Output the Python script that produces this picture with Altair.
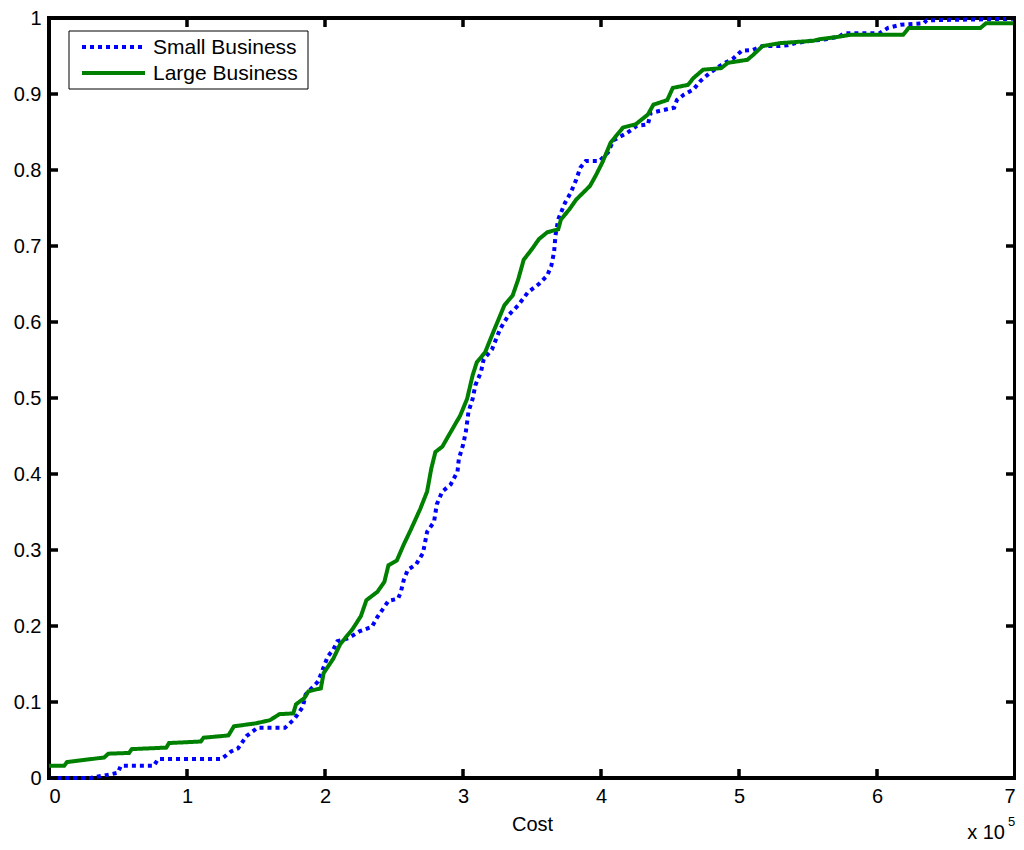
import altair as alt
import pandas as pd

# ---- data (cost in units of 1e5, cumulative fraction) ----
small_x = [0, 0.30, 0.45, 0.50, 0.52, 0.76, 0.79, 1.25, 1.32, 1.37, 1.43, 1.51, 1.71, 1.78, 1.84, 1.86,
           1.95, 2.02, 2.06, 2.09, 2.17, 2.25, 2.34, 2.38, 2.46, 2.53, 2.55, 2.57, 2.60, 2.66, 2.71, 2.74,
           2.79, 2.81, 2.85, 2.91, 2.96, 2.97, 3.00, 3.02, 3.04, 3.07, 3.09, 3.13, 3.15, 3.21, 3.27, 3.33,
           3.40, 3.47, 3.55, 3.61, 3.64, 3.66, 3.67, 3.69, 3.71, 3.74, 3.78, 3.82, 3.85, 3.89, 3.99, 4.05,
           4.09, 4.19, 4.26, 4.34, 4.36, 4.43, 4.53, 4.55, 4.60, 4.67, 4.72, 4.79, 4.87, 4.96, 5.02, 5.10,
           5.17, 5.28, 5.35, 5.41, 5.52, 5.63, 5.73, 5.76, 6.02, 6.08, 6.17, 6.34, 6.36, 7.00]
small_y = [0.0, 0.0, 0.005, 0.007, 0.016, 0.016, 0.025, 0.025, 0.035, 0.039, 0.055, 0.066, 0.066, 0.078, 0.094, 0.110,
           0.127, 0.160, 0.169, 0.180, 0.184, 0.193, 0.199, 0.212, 0.233, 0.236, 0.245, 0.260, 0.274, 0.281, 0.296, 0.324,
           0.337, 0.360, 0.377, 0.386, 0.403, 0.420, 0.438, 0.455, 0.482, 0.499, 0.517, 0.534, 0.551, 0.564, 0.591, 0.609,
           0.622, 0.639, 0.650, 0.661, 0.674, 0.692, 0.714, 0.735, 0.744, 0.757, 0.770, 0.787, 0.803, 0.812, 0.812, 0.823,
           0.839, 0.849, 0.858, 0.860, 0.875, 0.878, 0.882, 0.892, 0.899, 0.906, 0.917, 0.928, 0.938, 0.947, 0.957, 0.958,
           0.963, 0.963, 0.964, 0.967, 0.970, 0.972, 0.976, 0.980, 0.980, 0.987, 0.991, 0.993, 0.997, 0.999]

large_x = [0, 0.11, 0.13, 0.40, 0.43, 0.58, 0.60, 0.85, 0.87, 1.10, 1.12, 1.30, 1.34, 1.50, 1.60, 1.67,
           1.77, 1.79, 1.85, 1.88, 1.97, 1.99, 2.06, 2.11, 2.20, 2.26, 2.30, 2.38, 2.43, 2.46, 2.52, 2.57,
           2.62, 2.69, 2.74, 2.77, 2.80, 2.85, 2.91, 2.98, 3.03, 3.07, 3.10, 3.16, 3.22, 3.30, 3.36, 3.40,
           3.44, 3.50, 3.55, 3.61, 3.69, 3.71, 3.77, 3.82, 3.87, 3.92, 3.96, 4.01, 4.07, 4.16, 4.25, 4.34,
           4.38, 4.48, 4.52, 4.63, 4.67, 4.74, 4.87, 4.92, 5.06, 5.10, 5.17, 5.30, 5.54, 5.58, 5.71, 5.81,
           6.19, 6.23, 6.75, 6.79, 7.00]
large_y = [0.016, 0.016, 0.021, 0.027, 0.032, 0.033, 0.038, 0.040, 0.046, 0.048, 0.053, 0.056, 0.068, 0.072, 0.076, 0.084,
           0.085, 0.097, 0.105, 0.114, 0.118, 0.138, 0.157, 0.176, 0.196, 0.213, 0.234, 0.245, 0.258, 0.280, 0.286, 0.307,
           0.326, 0.354, 0.377, 0.407, 0.429, 0.436, 0.455, 0.477, 0.499, 0.530, 0.547, 0.560, 0.587, 0.622, 0.635, 0.656,
           0.682, 0.696, 0.709, 0.718, 0.722, 0.735, 0.748, 0.761, 0.770, 0.779, 0.792, 0.810, 0.836, 0.856, 0.860, 0.873,
           0.886, 0.892, 0.908, 0.912, 0.921, 0.932, 0.934, 0.941, 0.945, 0.951, 0.963, 0.967, 0.970, 0.972, 0.975, 0.978,
           0.978, 0.987, 0.987, 0.993, 0.993]

series_names = ["Small Business", "Large Business"]
series_colors = ["#0000ff", "#008000"]
series_dash = [[4, 4], [1, 0]]
x_ticks = [0, 1, 2, 3, 4, 5, 6, 7]
y_ticks = [0, 0.1, 0.2, 0.3, 0.4, 0.5, 0.6, 0.7, 0.8, 0.9, 1.0]

W, H = 966, 760
FONT = "Liberation Sans"

df = pd.concat([
    pd.DataFrame({"cost": small_x, "frac": small_y, "series": series_names[0]}),
    pd.DataFrame({"cost": large_x, "frac": large_y, "series": series_names[1]}),
])

xscale = alt.Scale(domain=[0, 7], nice=False, zero=False)
yscale = alt.Scale(domain=[0, 1], nice=False)

color = alt.Color("series:N", legend=None,
                  scale=alt.Scale(domain=series_names, range=series_colors))
dash = alt.StrokeDash("series:N", legend=None,
                      scale=alt.Scale(domain=series_names, range=series_dash))

base = alt.Chart(df)

def line_for(name):
    return base.transform_filter(alt.datum.series == name).mark_line(
        strokeWidth=4, strokeCap="butt", strokeJoin="miter"
    ).encode(
        x=alt.X("cost:Q", scale=xscale,
                axis=alt.Axis(values=x_ticks, format="d", title="Cost", ticks=False, domain=False,
                              grid=False, labelPadding=8.5, labelFontSize=20, titleFontSize=20,
                              titleFontWeight="normal", titlePadding=8, labelFont=FONT, titleFont=FONT,
                              labelColor="black", titleColor="black")),
        y=alt.Y("frac:Q", scale=yscale,
                axis=alt.Axis(values=y_ticks, format=".1~f", title=None, ticks=False, domain=False,
                              grid=False, labelPadding=8, labelFontSize=20, labelFont=FONT,
                              labelColor="black")),
        color=color,
        strokeDash=dash,
    )

one = pd.DataFrame({"k": [0]})
frame = alt.Chart(one).mark_rect(
    fill="white", fillOpacity=0, stroke="black", strokeWidth=4
).encode(x=alt.value(0), x2=alt.value(W), y=alt.value(0), y2=alt.value(H))

lines = line_for(series_names[0]) + line_for(series_names[1])

xt = alt.Chart(pd.DataFrame({"v": x_ticks}))
yt = alt.Chart(pd.DataFrame({"v": y_ticks}))
TL = 9
tick_style = dict(color="black", strokeWidth=3.5)
bottom_ticks = xt.mark_rule(**tick_style).encode(x=alt.X("v:Q", scale=xscale), y=alt.value(H), y2=alt.value(H - TL))
top_ticks = xt.mark_rule(**tick_style).encode(x=alt.X("v:Q", scale=xscale), y=alt.value(0), y2=alt.value(TL))
left_ticks = yt.mark_rule(**tick_style).encode(y=alt.Y("v:Q", scale=yscale), x=alt.value(0), x2=alt.value(TL))
right_ticks = yt.mark_rule(**tick_style).encode(y=alt.Y("v:Q", scale=yscale), x=alt.value(W), x2=alt.value(W - TL))

exp_text = alt.Chart(pd.DataFrame({"t": ["x 10"]})).mark_text(
    align="right", baseline="alphabetic", fontSize=20, font=FONT, color="black", dx=-10
).encode(x=alt.datum(7, scale=xscale), y=alt.value(H + 61), text="t:N")
exp_sup = alt.Chart(pd.DataFrame({"t": ["5"]})).mark_text(
    align="left", baseline="alphabetic", fontSize=13, font=FONT, color="black", dx=-7
).encode(x=alt.datum(7, scale=xscale), y=alt.value(H + 48), text="t:N")

# ---- legend box (drawn manually, MATLAB style) ----
leg_box = alt.Chart(one).mark_rect(
    fill="white", stroke="black", strokeWidth=1
).encode(x=alt.value(20), x2=alt.value(259), y=alt.value(13), y2=alt.value(71))
leg_layers = [leg_box]
row_y = [29, 55]
for name, col, dsh, ry in zip(series_names, series_colors, series_dash, row_y):
    leg_layers.append(alt.Chart(one).mark_rule(
        color=col, strokeWidth=4, strokeDash=dsh, strokeCap="butt"
    ).encode(x=alt.value(33), x2=alt.value(96), y=alt.value(ry)))
    leg_layers.append(alt.Chart(pd.DataFrame({"t": [name]})).mark_text(
        align="left", baseline="middle", fontSize=21, font=FONT, color="black"
    ).encode(x=alt.value(104), y=alt.value(ry + 1), text="t:N"))

chart = alt.layer(
    frame, lines, bottom_ticks, top_ticks, left_ticks, right_ticks, exp_text, exp_sup, *leg_layers
).properties(
    width=W, height=H,
    autosize=alt.AutoSizeParams(type="none"),
    padding={"left": 41, "top": 10, "right": 1, "bottom": 64},
).configure_view(
    stroke=None
).configure(background="white")

chart.save("out.html", embed_options={"renderer": "svg", "actions": False})
